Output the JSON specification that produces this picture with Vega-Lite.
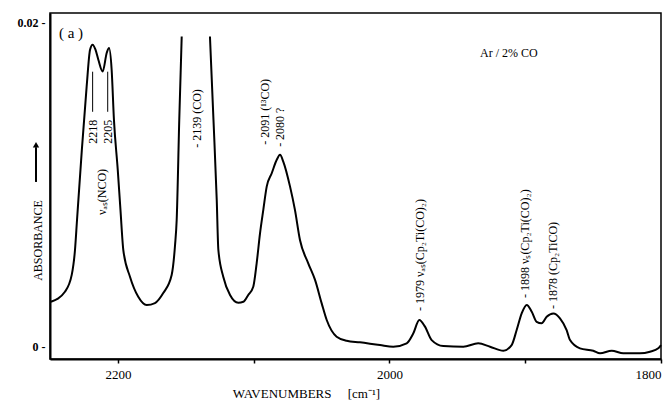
{
  "$schema": "https://vega.github.io/schema/vega-lite/v6.json",
  "width": 611,
  "height": 346,
  "autosize": "none",
  "padding": {"left": 50, "top": 13, "right": 2, "bottom": 42},
  "background": "white",
  "config": {
    "view": {"stroke": "black", "strokeWidth": 1.5},
    "font": "Liberation Serif"
  },
  "datasets": {
    "spectrum": [
      {"wn": 2249.3, "a": 0.00274, "seg": 1},
      {"wn": 2239.0, "a": 0.00336, "seg": 1},
      {"wn": 2234.0, "a": 0.00440, "seg": 1},
      {"wn": 2231.6, "a": 0.00594, "seg": 1},
      {"wn": 2230.1, "a": 0.00780, "seg": 1},
      {"wn": 2226.7, "a": 0.01195, "seg": 1},
      {"wn": 2223.0, "a": 0.01606, "seg": 1},
      {"wn": 2220.5, "a": 0.01833, "seg": 1},
      {"wn": 2218.6, "a": 0.01864, "seg": 1},
      {"wn": 2216.5, "a": 0.01833, "seg": 1},
      {"wn": 2214.4, "a": 0.01771, "seg": 1},
      {"wn": 2211.2, "a": 0.01698, "seg": 1},
      {"wn": 2208.2, "a": 0.01814, "seg": 1},
      {"wn": 2206.5, "a": 0.01843, "seg": 1},
      {"wn": 2204.6, "a": 0.01709, "seg": 1},
      {"wn": 2202.9, "a": 0.01399, "seg": 1},
      {"wn": 2200.1, "a": 0.01090, "seg": 1},
      {"wn": 2198.1, "a": 0.00842, "seg": 1},
      {"wn": 2196.0, "a": 0.00594, "seg": 1},
      {"wn": 2191.1, "a": 0.00429, "seg": 1},
      {"wn": 2185.0, "a": 0.00305, "seg": 1},
      {"wn": 2178.8, "a": 0.00254, "seg": 1},
      {"wn": 2172.7, "a": 0.00266, "seg": 1},
      {"wn": 2166.6, "a": 0.00328, "seg": 1},
      {"wn": 2160.4, "a": 0.00440, "seg": 1},
      {"wn": 2157.9, "a": 0.00625, "seg": 1},
      {"wn": 2156.7, "a": 0.00780, "seg": 1},
      {"wn": 2154.8, "a": 0.01399, "seg": 1},
      {"wn": 2153.0, "a": 0.01915, "seg": 1},
      {"wn": 2132.2, "a": 0.01915, "seg": 2},
      {"wn": 2129.6, "a": 0.01399, "seg": 2},
      {"wn": 2127.2, "a": 0.00904, "seg": 2},
      {"wn": 2126.0, "a": 0.00594, "seg": 2},
      {"wn": 2122.4, "a": 0.00429, "seg": 2},
      {"wn": 2117.4, "a": 0.00316, "seg": 2},
      {"wn": 2111.3, "a": 0.00268, "seg": 2},
      {"wn": 2107.6, "a": 0.00274, "seg": 2},
      {"wn": 2104.0, "a": 0.00316, "seg": 2},
      {"wn": 2100.3, "a": 0.00367, "seg": 2},
      {"wn": 2097.8, "a": 0.00512, "seg": 2},
      {"wn": 2095.3, "a": 0.00698, "seg": 2},
      {"wn": 2092.9, "a": 0.00842, "seg": 2},
      {"wn": 2090.4, "a": 0.00986, "seg": 2},
      {"wn": 2086.7, "a": 0.01069, "seg": 2},
      {"wn": 2083.0, "a": 0.01152, "seg": 2},
      {"wn": 2080.6, "a": 0.01183, "seg": 2},
      {"wn": 2078.2, "a": 0.01141, "seg": 2},
      {"wn": 2073.2, "a": 0.00986, "seg": 2},
      {"wn": 2069.6, "a": 0.00842, "seg": 2},
      {"wn": 2065.9, "a": 0.00656, "seg": 2},
      {"wn": 2059.8, "a": 0.00512, "seg": 2},
      {"wn": 2054.8, "a": 0.00409, "seg": 2},
      {"wn": 2049.9, "a": 0.00264, "seg": 2},
      {"wn": 2046.2, "a": 0.00161, "seg": 2},
      {"wn": 2038.9, "a": 0.00058, "seg": 2},
      {"wn": 2031.5, "a": 0.00033, "seg": 2},
      {"wn": 2021.7, "a": 0.00023, "seg": 2},
      {"wn": 2007.0, "a": 0.00006, "seg": 2},
      {"wn": 1997.2, "a": -0.00004, "seg": 2},
      {"wn": 1987.3, "a": 0.00017, "seg": 2},
      {"wn": 1982.4, "a": 0.00079, "seg": 2},
      {"wn": 1978.0, "a": 0.00161, "seg": 2},
      {"wn": 1973.8, "a": 0.00120, "seg": 2},
      {"wn": 1968.9, "a": 0.00037, "seg": 2},
      {"wn": 1960.3, "a": 0.0, "seg": 2},
      {"wn": 1945.6, "a": -0.00004, "seg": 2},
      {"wn": 1934.6, "a": 0.00017, "seg": 2},
      {"wn": 1925.9, "a": -0.00004, "seg": 2},
      {"wn": 1916.1, "a": -0.00029, "seg": 2},
      {"wn": 1910.0, "a": 0.00006, "seg": 2},
      {"wn": 1906.3, "a": 0.00099, "seg": 2},
      {"wn": 1902.6, "a": 0.00202, "seg": 2},
      {"wn": 1898.9, "a": 0.00254, "seg": 2},
      {"wn": 1895.2, "a": 0.00212, "seg": 2},
      {"wn": 1891.6, "a": 0.00150, "seg": 2},
      {"wn": 1887.9, "a": 0.00141, "seg": 2},
      {"wn": 1884.2, "a": 0.00181, "seg": 2},
      {"wn": 1879.3, "a": 0.00202, "seg": 2},
      {"wn": 1874.4, "a": 0.00172, "seg": 2},
      {"wn": 1869.5, "a": 0.00099, "seg": 2},
      {"wn": 1867.0, "a": 0.00037, "seg": 2},
      {"wn": 1859.7, "a": -0.00014, "seg": 2},
      {"wn": 1849.9, "a": -0.00029, "seg": 2},
      {"wn": 1844.9, "a": -0.00045, "seg": 2},
      {"wn": 1836.3, "a": -0.00029, "seg": 2},
      {"wn": 1827.8, "a": -0.00045, "seg": 2},
      {"wn": 1815.5, "a": -0.00045, "seg": 2},
      {"wn": 1808.1, "a": -0.00035, "seg": 2},
      {"wn": 1802.0, "a": -0.00014, "seg": 2},
      {"wn": 1800.0, "a": 0.00006, "seg": 2}
    ],
    "vlabels": [
      {"wn": 2218.3, "a": 0.01251, "t": "2218"},
      {"wn": 2207.3, "a": 0.01251, "t": "2205"},
      {"wn": 2211.9, "a": 0.00811, "t": "νₐₛ(NCO)"},
      {"wn": 2141.7, "a": 0.01226, "t": "- 2139 (CO)"},
      {"wn": 2091.7, "a": 0.01245, "t": "- 2091 (¹³CO)"},
      {"wn": 2080.6, "a": 0.01232, "t": "- 2080 ?"},
      {"wn": 1977.5, "a": 0.00217, "t": "- 1979 νₐₛ(Cp₂Ti(CO)₂)"},
      {"wn": 1900.2, "a": 0.00297, "t": "- 1898 νₛ(Cp₂Ti(CO)₂)"},
      {"wn": 1879.6, "a": 0.00229, "t": "- 1878 (Cp₂TiCO)"}
    ],
    "ticklines": [
      {"wn": 2218.6, "a": 0.01697, "a2": 0.01449},
      {"wn": 2207.5, "a": 0.01697, "a2": 0.01449}
    ],
    "htext": [
      {"wn": 2234.5, "a": 0.01938, "t": "( a )", "s": 15},
      {"wn": 1912.0, "a": 0.01814, "t": "Ar / 2% CO", "s": 12}
    ],
    "arrow": [
      {"wn": 2260.3, "a": 0.01015, "a2": 0.01230}
    ],
    "arrowhead": [
      {"wn": 2260.3, "a": 0.01245}
    ]
  },
  "encoding": {
    "x": {
      "field": "wn",
      "type": "quantitative",
      "scale": {"domain": [2250, 1800], "nice": false, "zero": false},
      "axis": {
        "values": [2200, 2100, 2000, 1900, 1800],
        "labelExpr": "datum.value == 2100 || datum.value == 1900 ? '' : datum.label",
        "format": "d",
        "grid": false,
        "domainColor": "black",
        "domainWidth": 2,
        "tickColor": "black",
        "tickSize": 4,
        "tickWidth": 1.5,
        "labelFont": "Liberation Serif",
        "labelFontSize": 13,
        "labelColor": "black",
        "labelPadding": 5,
        "labelFlush": 2,
        "title": "WAVENUMBERS\u00a0\u00a0\u00a0\u00a0\u00a0[cm⁻¹]",
        "titleFont": "Liberation Serif",
        "titleFontSize": 13,
        "titleFontWeight": "normal",
        "titleColor": "black",
        "titleX": 256,
        "titleY": 34,
        "titleBaseline": "middle",
        "titleAlign": "center"
      }
    },
    "y": {
      "field": "a",
      "type": "quantitative",
      "scale": {"domain": [-0.0008, 0.0206], "nice": false, "zero": false},
      "axis": {
        "values": [0, 0.02],
        "labelExpr": "datum.value == 0 ? '0 -' : '0.02 -'",
        "grid": false,
        "ticks": false,
        "domainColor": "black",
        "domainWidth": 2,
        "labelFont": "Liberation Serif",
        "labelFontSize": 12,
        "labelFontWeight": "bold",
        "labelColor": "black",
        "labelPadding": 5,
        "title": "ABSORBANCE",
        "titleFont": "Liberation Serif",
        "titleFontSize": 12,
        "titleFontWeight": "normal",
        "titleColor": "black",
        "titleAngle": 270,
        "titleX": -13,
        "titleY": 227,
        "titleBaseline": "middle",
        "titleAlign": "center"
      }
    }
  },
  "layer": [
    {
      "data": {"name": "spectrum"},
      "mark": {"type": "line", "color": "black", "strokeWidth": 2, "interpolate": "monotone"},
      "encoding": {"detail": {"field": "seg", "type": "nominal"}}
    },
    {
      "data": {"name": "ticklines"},
      "mark": {"type": "rule", "color": "black", "strokeWidth": 1},
      "encoding": {"y2": {"field": "a2"}}
    },
    {
      "data": {"name": "vlabels"},
      "mark": {"type": "text", "angle": 270, "align": "left", "baseline": "middle", "font": "Liberation Serif", "fontSize": 12, "color": "black"},
      "encoding": {"text": {"field": "t"}}
    },
    {
      "data": {"name": "htext"},
      "mark": {"type": "text", "align": "center", "baseline": "middle", "font": "Liberation Serif", "color": "black"},
      "encoding": {"text": {"field": "t"}, "size": {"field": "s", "type": "quantitative", "scale": null}}
    },
    {
      "data": {"name": "arrow"},
      "mark": {"type": "rule", "color": "black", "strokeWidth": 2, "clip": false},
      "encoding": {"y2": {"field": "a2"}}
    },
    {
      "data": {"name": "arrowhead"},
      "mark": {"type": "point", "shape": "triangle-up", "filled": true, "color": "black", "size": 40, "opacity": 1, "clip": false},
      "encoding": {}
    }
  ]
}
